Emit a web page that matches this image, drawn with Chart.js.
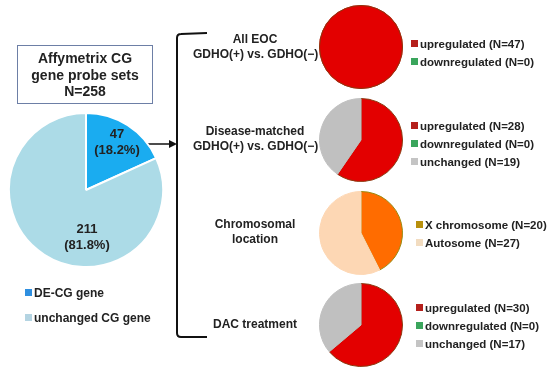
<!DOCTYPE html>
<html>
<head>
<meta charset="utf-8">
<script src="https://cdn.jsdelivr.net/npm/chart.js@4"></script>
<style>
  body { margin: 0; background: #fff; }
  #wrap { position: relative; width: 550px; height: 374px; overflow: hidden; font-family: "Liberation Sans", Arial, sans-serif; color: #222; }
  .pie { position: absolute; }
  .txt { position: absolute; font-weight: bold; white-space: nowrap; text-align: center; line-height: 1; }
  .leg { position: absolute; font-weight: bold; font-size: 11.5px; white-space: nowrap; }
  .leg div { height: 18px; line-height: 18px; }
  .leg span { display: inline-block; width: 7px; height: 7px; margin-right: 2px; vertical-align: 1px; }
  #box { position: absolute; left: 17px; top: 45px; width: 134px; height: 57px; border: 1px solid #6d7fa6; background: #fff; }
</style>
</head>
<body>
<div id="wrap">
  <canvas id="lines" width="550" height="374" style="position:absolute;left:0;top:0"></canvas>
  <div class="pie" style="left:8px;top:112px;width:156px;height:156px"><canvas id="mainPie"></canvas></div>
  <div id="box"></div>
  <div class="txt" style="left:17px;top:50px;width:136px;font-size:14px;line-height:16.5px">Affymetrix CG<br>gene probe sets<br>N=<span id="total"></span></div>
  <div class="txt" id="lab0" style="left:87px;top:126px;width:60px;font-size:13px;line-height:16px"></div>
  <div class="txt" id="lab1" style="left:52px;top:221px;width:70px;font-size:13px;line-height:16px"></div>
  <div class="leg" id="mainLeg" style="left:25px;top:281px;font-size:12px"></div>

  <div class="pie" style="left:319px;top:5px;width:84px;height:84px"><canvas id="pie1"></canvas></div>
  <div class="pie" style="left:319px;top:98px;width:84px;height:84px"><canvas id="pie2"></canvas></div>
  <div class="pie" style="left:319px;top:191px;width:84px;height:84px"><canvas id="pie3"></canvas></div>
  <div class="pie" style="left:319px;top:283px;width:84px;height:84px"><canvas id="pie4"></canvas></div>

  <div class="txt" style="left:193px;top:32px;width:124px;font-size:12px;line-height:15px">All EOC<br>GDHO(+) vs. GDHO(&minus;)</div>
  <div class="txt" style="left:193px;top:124px;width:124px;font-size:12px;line-height:15px">Disease-matched<br>GDHO(+) vs. GDHO(&minus;)</div>
  <div class="txt" style="left:193px;top:217px;width:124px;font-size:12px;line-height:15px">Chromosomal<br>location</div>
  <div class="txt" style="left:193px;top:317px;width:124px;font-size:12px;line-height:15px">DAC treatment</div>

  <div class="leg" id="leg1" style="left:411px;top:35px"></div>
  <div class="leg" id="leg2" style="left:411px;top:117px"></div>
  <div class="leg" id="leg3" style="left:416px;top:216px;line-height:19px"></div>
  <div class="leg" id="leg4" style="left:416px;top:299px"></div>
</div>
<script>
// overall probe sets
const mainLabels = ['DE-CG gene', 'unchanged CG gene'];
const mainValues = [47, 211];
const mainColors = ['#1aacf0', '#acdbe7'];
const mainLegColors = ['#2f8fe0', '#b4d4e2'];

// regulation pies
const regLabels = ['upregulated', 'downregulated', 'unchanged'];
const allEocValues = [47, 0];
const matchedValues = [28, 0, 19];
const dacValues = [30, 0, 17];
const regColors = ['#e30000', '#2e9e4f', '#c0c0c0'];
const regLegColors = ['#b5201c', '#3aa55c', '#c4c4c4'];

// chromosome pie
const chromLabels = ['X chromosome', 'Autosome'];
const chromValues = [20, 27];
const chromColors = ['#ff6c00', '#fdd7b4'];
const chromLegColors = ['#b8900c', '#f2dcc0'];

// outline round a full-circle pie (a 360 degree arc border leaves a radial line)
const ringPlugin = {
    id: 'ring',
    afterDatasetsDraw(chart, args, opts) {
        if (!opts.color) return;
        const arc = chart.getDatasetMeta(0).data[0];
        const c = chart.ctx;
        c.save();
        c.strokeStyle = opts.color;
        c.lineWidth = 1;
        c.beginPath();
        c.arc(arc.x, arc.y, arc.outerRadius - 0.5, 0, Math.PI * 2);
        c.stroke();
        c.restore();
    }
};

function makePie(id, values, colors, borderColors, borderWidth, ring) {
    return new Chart(document.getElementById(id), {
        type: 'pie',
        data: {
            labels: values.map((v, i) => i),
            datasets: [{
                data: values,
                backgroundColor: colors,
                borderColor: borderColors,
                // no outline for empty slices
                borderWidth: c => values[c.dataIndex] === 0 ? 0 : borderWidth
            }]
        },
        options: {
            responsive: true,
            maintainAspectRatio: false,
            animation: false,
            layout: { padding: 0 },
            plugins: { legend: { display: false }, tooltip: { enabled: false }, ring: { color: ring } }
        },
        plugins: [ringPlugin]
    });
}

makePie('mainPie', mainValues, mainColors, '#ffffff', 2);
makePie('pie1', allEocValues, regColors, '#8a3a10', 0, '#8a3a10');
makePie('pie2', matchedValues, regColors, ['#8a3a10', '#8a3a10', '#c0c0c0'], 1);
makePie('pie3', chromValues, chromColors, ['#9a8a10', '#fdd7b4'], 1);
makePie('pie4', dacValues, regColors, ['#8a3a10', '#8a3a10', '#c0c0c0'], 1);

const total = mainValues.reduce((a, b) => a + b, 0);
document.getElementById('total').textContent = total;
mainValues.forEach((v, i) => {
    document.getElementById('lab' + i).innerHTML = v + '<br>(' + (v / total * 100).toFixed(1) + '%)';
});

function legend(id, labels, values, colors, withN) {
    let html = '';
    values.forEach((v, i) => {
        const text = withN ? labels[i] + ' (N=' + v + ')' : labels[i];
        html += '<div><span style="background:' + colors[i] + '"></span>' + text + '</div>';
    });
    document.getElementById(id).innerHTML = html;
}
legend('mainLeg', mainLabels, mainValues, mainLegColors, false);
document.querySelectorAll('#mainLeg div').forEach(d => { d.style.height = '25px'; d.style.lineHeight = '25px'; });
legend('leg1', regLabels, allEocValues, regLegColors, true);
legend('leg2', regLabels, matchedValues, regLegColors, true);
legend('leg3', chromLabels, chromValues, chromLegColors, true);
legend('leg4', regLabels, dacValues, regLegColors, true);

// bracket and arrow
const ctx = document.getElementById('lines').getContext('2d');
ctx.strokeStyle = '#111';
ctx.lineWidth = 2;
ctx.beginPath();
ctx.moveTo(207, 33);
ctx.lineTo(181, 34);
ctx.quadraticCurveTo(177, 34, 177, 38);
ctx.lineTo(177, 333);
ctx.quadraticCurveTo(177, 337, 181, 337);
ctx.lineTo(207, 337);
ctx.stroke();
ctx.lineWidth = 1.5;
ctx.beginPath();
ctx.moveTo(147, 144);
ctx.lineTo(172, 144);
ctx.stroke();
ctx.fillStyle = '#111';
ctx.beginPath();
ctx.moveTo(177, 144);
ctx.lineTo(169, 140);
ctx.lineTo(169, 148);
ctx.closePath();
ctx.fill();
</script>
</body>
</html>
